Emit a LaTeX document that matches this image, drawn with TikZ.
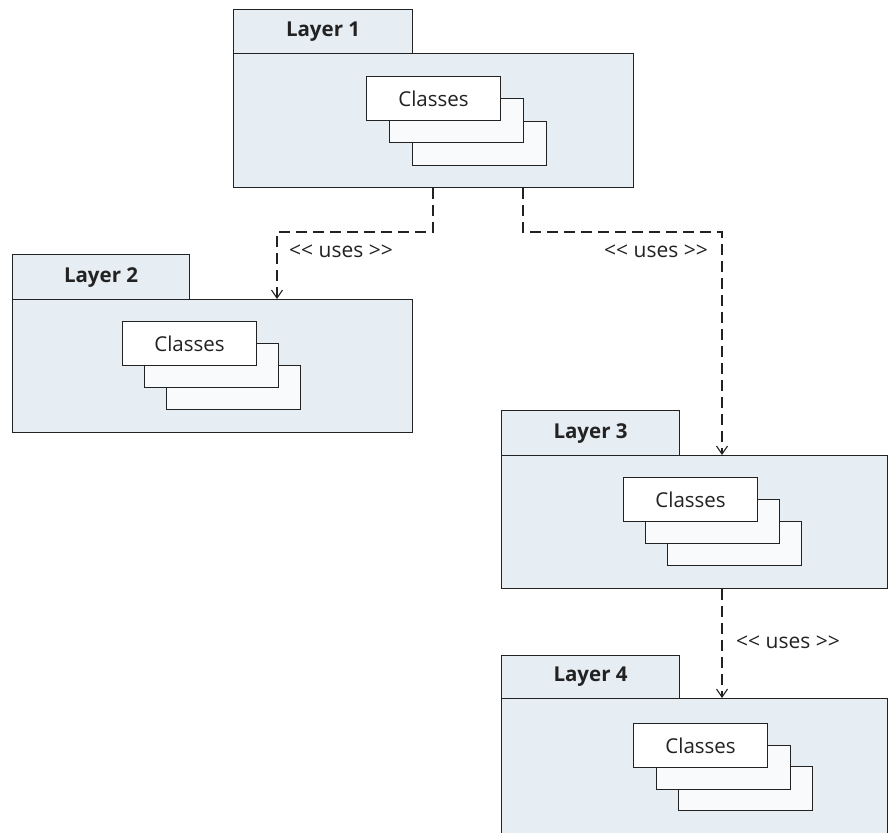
\documentclass[tikz,border=0pt]{standalone}
\usepackage{fontspec}
\setmainfont{Open Sans}
\usetikzlibrary{arrows.meta}
\definecolor{pkgfill}{HTML}{E6EDF3}
\definecolor{stackfill}{HTML}{F8FAFC}
\definecolor{ink}{HTML}{222222}
\begin{document}
\begin{tikzpicture}[x=1pt,y=-1pt,
  pkg/.style={draw=ink, line width=1.1pt, fill=pkgfill, anchor=north west, inner sep=0pt},
  cls/.style={draw=ink, line width=1.1pt, fill=white, anchor=north west, minimum width=134pt, minimum height=44pt, inner sep=0pt, font=\fontsize{20.5}{23}\selectfont, text=ink},
  stack/.style={cls, fill=stackfill},
  lbl/.style={font=\fontsize{20.5}{23}\selectfont\bfseries, text=ink},
  dep/.style={draw=ink, line width=1.1pt, dash pattern=on 11pt off 6pt, -{Straight Barb[length=8pt,width=11pt]}},
  uses/.style={font=\fontsize{21}{23}\selectfont, text=ink}]
\clip (0,0) rectangle (890,832);
% Layer 1
\node[pkg, minimum width=179pt, minimum height=44pt] (l1tab) at (233,9) {};
\node[pkg, minimum width=400pt, minimum height=134pt] (l1body) at (233,53) {};
\node[lbl] (l1name) at (l1tab.center) {Layer 1};
\node[stack] (l1c3) at (412,121) {};
\node[stack] (l1c2) at (389,98) {};
\node[cls] (l1c1) at (366,76) {Classes};
% Layer 2
\node[pkg, minimum width=177pt, minimum height=45pt] (l2tab) at (12,254) {};
\node[pkg, minimum width=400pt, minimum height=133pt] (l2body) at (12,299) {};
\node[lbl] (l2name) at (l2tab.center) {Layer 2};
\node[stack] (l2c3) at (166,365) {};
\node[stack] (l2c2) at (144,343) {};
\node[cls] (l2c1) at (122,321) {Classes};
% Layer 3
\node[pkg, minimum width=178pt, minimum height=45pt] (l3tab) at (501,410) {};
\node[pkg, minimum width=386pt, minimum height=133pt] (l3body) at (501,455) {};
\node[lbl] (l3name) at (l3tab.center) {Layer 3};
\node[stack] (l3c3) at (667,521) {};
\node[stack] (l3c2) at (645,499) {};
\node[cls] (l3c1) at (623,477) {Classes};
% Layer 4
\node[pkg, minimum width=178pt, minimum height=43pt] (l4tab) at (501,655) {};
\node[pkg, minimum width=386pt, minimum height=150pt] (l4body) at (501,698) {};
\node[lbl] (l4name) at (l4tab.center) {Layer 4};
\node[stack] (l4c3) at (678,766) {};
\node[stack] (l4c2) at (656,745) {};
\node[cls] (l4c1) at (633,723) {Classes};
% connectors
\coordinate (s1) at (433,0);
\coordinate (k1) at (277,232);
\coordinate (s2) at (523,0);
\coordinate (k2) at (722,232);
\draw[dep] (l1body.south -| s1) |- (k1) -- (l2body.north -| k1);
\draw[dep] (l1body.south -| s2) |- (k2) -- (l3body.north -| k2);
\draw[dep] (l3body.south -| k2) -- (l4body.north -| k2);
\node[uses] (u1) at (341,251) {<{}< uses >{}>};
\node[uses] (u2) at (656,251) {<{}< uses >{}>};
\node[uses] (u3) at (788,642) {<{}< uses >{}>};
\end{tikzpicture}
\end{document}
